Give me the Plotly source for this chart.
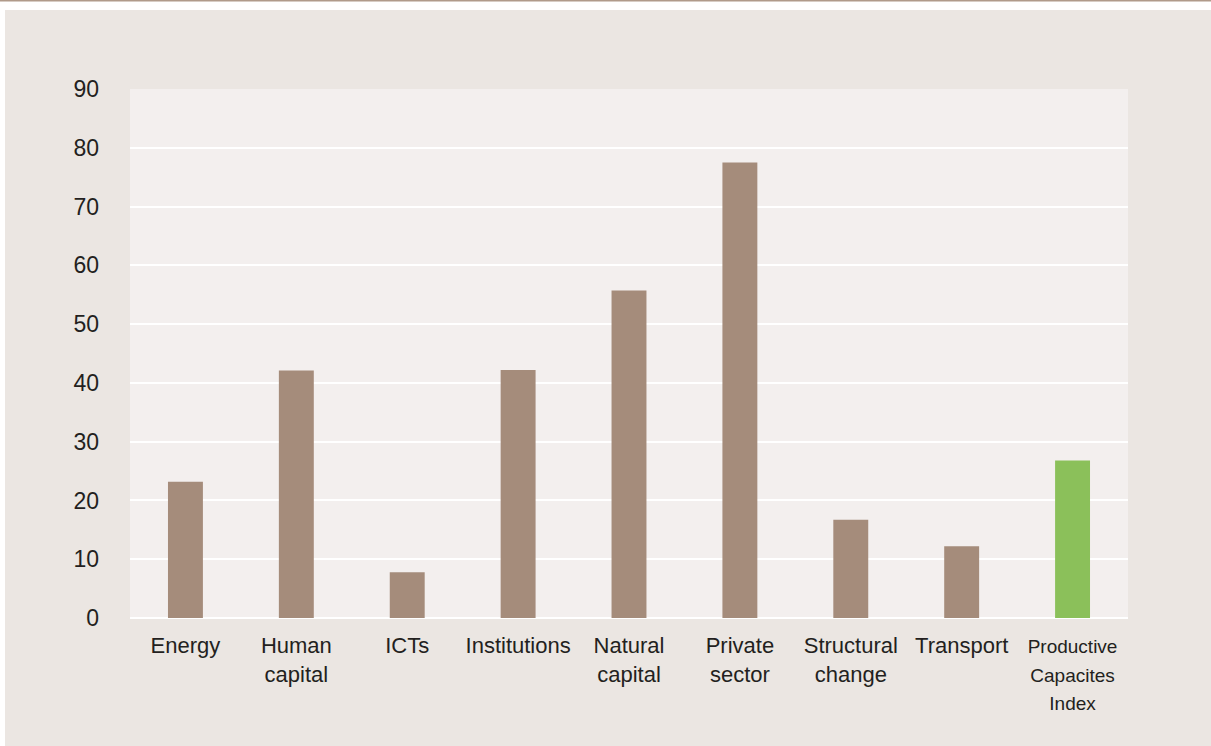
import plotly.graph_objects as go

categories = ["Energy", "Human<br>capital", "ICTs", "Institutions", "Natural<br>capital",
              "Private<br>sector", "Structural<br>change", "Transport",
              "<span style='font-size:19px'>Productive<br>Capacites<br>Index</span>"]
values = [23.2, 42.1, 7.8, 42.2, 55.7, 77.5, 16.7, 12.2, 26.8]
bar_colors = ["#a58c7b"] * 8 + ["#8bc05a"]
y_ticks = [0, 10, 20, 30, 40, 50, 60, 70, 80, 90]

FONT = "Liberation Sans Narrow, Arial Narrow, Liberation Sans, Arial, sans-serif"

fig = go.Figure(go.Bar(x=categories, y=values, marker=dict(color=bar_colors, line=dict(width=0)),
                       width=0.315))

W, H = 1211, 746
L, R, T, B = 130, 83, 89, 128
pw, ph = W - L - R, H - T - B

def px_x(p):
    return (p - L) / pw

def px_y(p):
    return (H - B - p) / ph

fig.update_layout(
    width=W, height=H,
    margin=dict(l=L, r=R, t=T, b=B),
    paper_bgcolor="#ebe6e2",
    plot_bgcolor="#f3efee",
    font=dict(family=FONT, size=22, color="#231f20"),
    showlegend=False,
    xaxis=dict(showgrid=False, ticks="", showline=False, tickfont=dict(size=22),
               ticklabelstandoff=12),
    yaxis=dict(range=[0, 90], tickvals=y_ticks, showgrid=True, gridcolor="#ffffff", gridwidth=2,
               zeroline=True, zerolinecolor="#ffffff", zerolinewidth=2, ticks="",
               ticklabelstandoff=30, tickfont=dict(size=23)),
    shapes=[
        dict(type="rect", xref="paper", yref="paper", x0=px_x(-5), x1=px_x(W + 5),
             y0=px_y(10), y1=px_y(-5), fillcolor="#ffffff", line=dict(width=0), layer="above"),
        dict(type="rect", xref="paper", yref="paper", x0=px_x(-5), x1=px_x(5),
             y0=px_y(H + 5), y1=px_y(-5), fillcolor="#ffffff", line=dict(width=0), layer="above"),
        dict(type="line", xref="paper", yref="paper", x0=px_x(0), x1=px_x(W),
             y0=px_y(0.75), y1=px_y(0.75), line=dict(color="#b09a8a", width=1.5), layer="above"),
    ],
)

fig.write_html("out.html", config={"displayModeBar": False},
               post_script="document.body.style.margin='0px';document.body.style.overflow='hidden';")
